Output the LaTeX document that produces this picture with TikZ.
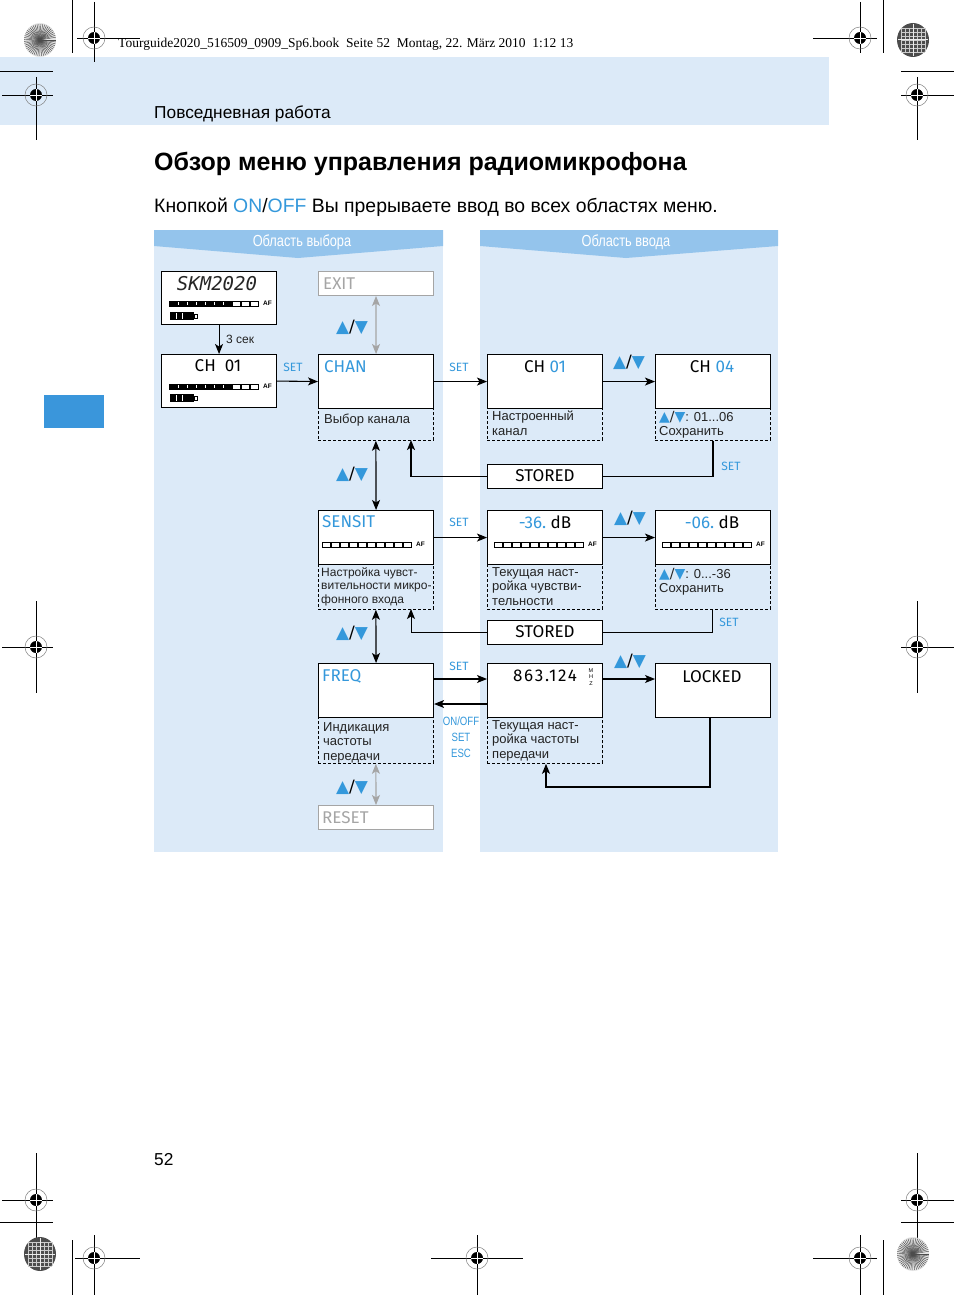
\documentclass[tikz,border=0pt]{standalone}
\usepackage{fontspec}
\setmainfont{Liberation Sans}
\newfontfamily\timesf{Liberation Serif}
\newfontfamily\condf[FakeStretch=0.8]{Liberation Sans}
\newfontfamily\dispf{Fira Sans}
\newfontfamily\dispwide[LetterSpace=10]{Fira Sans}
\newfontfamily\symf{DejaVu Sans}
\newfontfamily\lcdf{DejaVu Sans Mono}
\usetikzlibrary{arrows.meta,calc}
\definecolor{bandblue}{RGB}{220,234,248}
\definecolor{tabblue}{RGB}{148,196,236}
\definecolor{txtblue}{RGB}{52,152,219}
\definecolor{tabdark}{RGB}{58,150,219}
\definecolor{greyline}{RGB}{165,165,165}
\definecolor{bodytxt}{RGB}{35,35,35}
\newcommand\ud{{\color{txtblue}▲}/{\color{txtblue}▼}}
\newcommand\regc[2]{%
  \draw[gray,line width=0.5pt] (#1,#2) circle (11);
  \fill (#1,#2) circle (6);
  \draw[white,line width=0.7pt] ({#1-6},#2)--({#1+6},#2) (#1,{#2-6})--(#1,{#2+6});
}
\newcommand\sunb[2]{%
  \fill[gray!20] (#1,#2) ellipse (16 and 17);
  \foreach \a in {0,7,...,353} \draw[gray!60!black,line width=0.45pt] (#1,#2) -- ++(\a:16);
}
\newcommand\darkc[2]{%
  \fill[gray!60!black] (#1,#2) ellipse (16 and 17);
  \foreach \d in {-12,-8,...,12} {\draw[gray!40,line width=0.3pt] ({#1+\d},{#2-12})--({#1+\d},{#2+12}); \draw[gray!40,line width=0.3pt] ({#1-12},{#2+\d})--({#1+12},{#2+\d});}
  \draw[gray!15,line width=1pt] ({#1-15},#2)--({#1+15},#2) (#1,{#2-16})--(#1,{#2+16});
}
\newcommand\afbar[3]{%
  \foreach \k in {0,...,9} \draw[line width=0.5pt,fill=white] ({#1+9*\k},#2) rectangle ++(8.6,5);
  \ifnum#3>0
    \fill ({#1},#2) rectangle ++({9*#3},5);
    \foreach \k in {1,...,6} \draw[white,line width=0.6pt] ({#1+9*\k},{#2+1})--++(0,3);
  \fi
  \node[font=\bfseries\fontsize{6.5}{6.5}\selectfont, anchor=west, inner sep=0pt] at ({#1+94},{#2+2.5}) {AF};
}
\newcommand\batt[2]{%
  \fill (#1,#2) rectangle ++(24,8);
  \draw[line width=0.6pt] ({#1+24},{#2+2}) rectangle ++(3,4);
  \draw[white,line width=0.8pt] ({#1+6},{#2+1})--++(0,6) ({#1+12},{#2+1})--++(0,6);
}
\begin{document}
\begin{tikzpicture}[x=1pt,y=-1pt,
  box/.style={draw=black, line width=1.1pt, fill=white, minimum width=115pt, minimum height=54pt, anchor=north west, inner sep=0pt},
  sbox/.style={box, minimum height=24pt},
  gbox/.style={draw=greyline, line width=1pt, fill=white, minimum width=115pt, minimum height=24pt, anchor=north west, inner sep=0pt},
  dbox/.style={draw=black, dash pattern=on 3pt off 2pt, line width=0.8pt, minimum width=115pt, anchor=north west, inner sep=0pt},
  disp/.style={font=\dispf\fontsize{17}{17}\selectfont, inner sep=0pt},
  lab/.style={font=\dispf\fontsize{12}{12}\selectfont, text=txtblue, inner sep=0pt},
  udl/.style={font=\symf\fontsize{17}{17}\selectfont, inner sep=0pt},
  body/.style={font=\fontsize{13}{14.5}\selectfont, text=bodytxt, align=left, anchor=north west, inner sep=0pt},
  arr/.style={-{Stealth[length=10pt,width=8pt,inset=2.5pt]}, line width=1.1pt},
  darr/.style={{Stealth[length=10pt,width=8pt,inset=2.5pt]}-{Stealth[length=10pt,width=8pt,inset=2.5pt]}, line width=1.1pt},
  garr/.style={darr, draw=greyline}
]
\useasboundingbox (0,0) rectangle (954,1295);
\fill[white] (0,0) rectangle (954,1295);

% header band
\fill[bandblue] (0,57) rectangle (829,125);
\node[anchor=base west, inner sep=0pt, font=\timesf\fontsize{13.5}{13.5}\selectfont] (hdr) at (118,48) {Tourguide2020\_516509\_0909\_Sp6.book\ \ Seite 52\ \ Montag, 22. März 2010\ \ 1:12 13};
\node[anchor=base west, inner sep=0pt, font=\fontsize{17.3}{17.3}\selectfont] (sect) at (154,118) {Повседневная работа};
\node[anchor=base west, inner sep=0pt, font=\bfseries\fontsize{25}{25}\selectfont] (title) at (154,170) {Обзор меню управления радиомикрофона};
\node[anchor=base west, inner sep=0pt, font=\fontsize{19.4}{19.4}\selectfont] (sub) at (154,212) {Кнопкой {\color{txtblue}ON}/{\color{txtblue}OFF} Вы прерываете ввод во всех областях меню.};
\node[anchor=base west, inner sep=0pt, font=\fontsize{17.3}{17.3}\selectfont] (pg) at (154,1165) {52};
\fill[tabdark] (44,395) rectangle (104,428);

% panels
\fill[bandblue] (154,230) rectangle (443,852);
\fill[bandblue] (480,230) rectangle (778,852);
\fill[tabblue] (154,230) -- (443,230) -- (443,246) -- (298,258) -- (154,246) -- cycle;
\fill[tabblue] (480,230) -- (778,230) -- (778,246) -- (626,258) -- (480,246) -- cycle;
\node[text=white, inner sep=0pt, font=\condf\fontsize{16}{16}\selectfont] (tabL) at (302,242) {Область выбора};
\node[text=white, inner sep=0pt, font=\condf\fontsize{16}{16}\selectfont] (tabR) at (626,242) {Область ввода};

% dashed boxes
\node[dbox, minimum height=32pt] (chand) at (318,408) {};
\node[dbox, minimum height=45pt] (sensd) at (318,564) {};
\node[dbox, minimum height=46pt] (freqd) at (318,717) {};
\node[dbox, minimum height=32pt] (ch01bd) at (487,408) {};
\node[dbox, minimum height=45pt] (db36d) at (487,564) {};
\node[dbox, minimum height=46pt] (f863d) at (487,717) {};
\node[dbox, minimum height=32pt] (ch04d) at (655,408) {};
\node[dbox, minimum height=45pt] (db06d) at (655,564) {};

% solid boxes
\node[box, minimum height=53pt] (skm) at (161,271) {};
\node[box, minimum height=53pt] (ch01a) at (161,354) {};
\node[gbox] (exit) at (318,271) {};
\node[box] (chan) at (318,354) {};
\node[box] (sensit) at (318,510) {};
\node[box] (freq) at (318,663) {};
\node[gbox] (reset) at (318,805) {};
\node[box] (ch01b) at (487,354) {};
\node[sbox] (stored1) at (487,464) {};
\node[box] (db36) at (487,510) {};
\node[sbox] (stored2) at (487,620) {};
\node[box] (f863) at (487,663) {};
\node[box] (ch04) at (655,354) {};
\node[box] (db06) at (655,510) {};
\node[box] (locked) at (655,663) {};

% box texts
\node[inner sep=0pt, text=black!85, font=\lcdf\itshape\fontsize{19}{19}\selectfont] (tskm) at (217,284) {SKM2020};
\afbar{169}{301}{7}
\batt{170}{312}
\node[disp] (tch01a) at (218,366) {CH\ \ 01};
\afbar{169}{384}{7}
\batt{170}{394}
\node[disp, anchor=west, text=greyline] (texit) at (323,284) {EXIT};
\node[disp, anchor=west, text=txtblue] (tchan) at (324,367) {CHAN};
\node[disp, anchor=west, text=txtblue] (tsens) at (322,522) {SENSIT};
\afbar{322}{542}{0}
\node[disp, anchor=west, text=txtblue] (tfreq) at (322,676) {FREQ};
\node[disp, anchor=west, text=greyline] (treset) at (322,818) {RESET};
\node[disp] (tch01b) at (545,367) {CH {\color{txtblue}01}};
\node[disp] (tch04) at (712,367) {CH {\color{txtblue}04}};
\node[disp] (ts1) at (545,476) {STORED};
\node[disp] (ts2) at (545,632) {STORED};
\node[disp] (tdb36) at (545,522) {{\color{txtblue}-36.}\ dB};
\afbar{494}{542}{0}
\node[disp] (tdb06) at (712,522) {{\color{txtblue}-06.}\ dB};
\afbar{662}{542}{0}
\node[disp, font=\dispwide\fontsize{17}{17}\selectfont] (t863) at (545,676) {863.124};
\node[inner sep=0pt, align=center, font=\fontsize{5.5}{6.5}\selectfont] (tmhz) at (591,677) {M\\H\\Z};
\node[disp] (tlock) at (712,677) {LOCKED};

% body texts
\node[body] (b1) at (324,414) {Выбор канала};
\node[body] (b2) at (492,411) {Настроенный\\канал};
\node[body] (b3) at (659,411) {{\symf\fontsize{14}{14}\selectfont\ud}: 01...06\\Сохранить};
\node[body, font=\fontsize{12}{13.5}\selectfont] (b4) at (321,567) {Настройка чувст-\\вительности микро-\\фонного входа};
\node[body] (b5) at (492,567) {Текущая наст-\\ройка чувстви-\\тельности};
\node[body] (b6) at (659,568) {{\symf\fontsize{14}{14}\selectfont\ud}: 0...-36\\Сохранить};
\node[body] (b7) at (323,722) {Индикация\\частоты\\передачи};
\node[body] (b8) at (492,720) {Текущая наст-\\ройка частоты\\передачи};

% connectors
\draw[arr] (skm.south) -- (ch01a.north);
\node[anchor=west, inner sep=0pt, font=\fontsize{12}{12}\selectfont, text=bodytxt] (t3s) at (226,339) {3 сек};
\draw[arr] (ch01a.east) -- (chan.west);
\node[lab] (l1) at (293,367) {SET};
\draw[garr] (exit.south) -- (chan.north);
\node[udl] (u1) at (352,327) {\ud};
\draw[darr] (chand.south) -- (sensit.north);
\node[udl] (u2) at (352,474) {\ud};
\draw[darr] (sensd.south) -- (freq.north);
\node[udl] (u3) at (352,633) {\ud};
\draw[garr] (freqd.south) -- (reset.north);
\node[udl] (u4) at (352,787) {\ud};

\draw[arr] (chan.east) -- (ch01b.west);
\node[lab] (l2) at (459,367) {SET};
\draw[arr] (ch01b.east) -- (ch04.west);
\node[udl] (u5) at (629,362) {\ud};
\coordinate (r1) at (411,440);
\draw[line width=1.6pt] (ch04d.south) |- (stored1.east);
\node[lab] (l3) at (731,466) {SET};
\draw[arr, line width=1.6pt] (stored1.west) -| (r1);

\draw[arr] (sensit.east) -- (db36.west);
\node[lab] (l4) at (459,522) {SET};
\draw[arr] (db36.east) -- (db06.west);
\node[udl] (u6) at (630,518) {\ud};
\coordinate (r2) at (411,609);
\draw[line width=1pt] (db06d.south) |- (stored2.east);
\node[lab] (l5) at (729,622) {SET};
\draw[arr, line width=1pt] (stored2.west) -| (r2);

\draw[arr] ($(freq.north east)+(0,16)$) -- ($(f863.north west)+(0,16)$);
\node[lab] (l6) at (459,666) {SET};
\draw[arr] ($(f863.north west)+(0,41)$) -- ($(freq.north east)+(0,41)$);
\node[lab, font=\condf\fontsize{12}{12}\selectfont] (l7) at (461,721) {ON/OFF};
\node[lab, font=\condf\fontsize{12}{12}\selectfont] (l8) at (461,737) {SET};
\node[lab, font=\condf\fontsize{12}{12}\selectfont] (l9) at (461,753) {ESC};
\draw[arr] ($(f863.north east)+(0,16)$) -- ($(locked.north west)+(0,16)$);
\node[udl] (u7) at (630,661) {\ud};
\coordinate (c3) at (710,787);
\draw[arr, line width=1.4pt] (c3 |- locked.south) -- (c3) -| (f863d.south -| 546,0);

% registration marks
\draw[line width=0.7pt] (72,0)--(72,53) (94,2)--(94,62) (77,38)--(140,38) (0,71)--(53,71) (2,95)--(53,95) (36,77)--(36,140);
\regc{94}{38} \regc{36}{95} \sunb{40}{40}
\draw[line width=0.7pt] (883,0)--(883,53) (860,2)--(860,53) (813,38)--(877,38) (901,71)--(954,71) (901,95)--(954,95) (917,77)--(917,140);
\regc{860}{38} \regc{917}{95} \darkc{913}{40}
\draw[line width=0.7pt] (2,647)--(53,647) (36,601)--(36,693) (901,647)--(954,647) (917,601)--(917,693);
\regc{36}{647} \regc{917}{647}
\draw[line width=0.7pt] (2,1200)--(53,1200) (36,1153)--(36,1245) (0,1222)--(53,1222) (72,1240)--(72,1295) (94,1235)--(94,1295) (75,1258)--(140,1258);
\regc{36}{1200} \regc{94}{1258} \darkc{40}{1254}
\draw[line width=0.7pt] (477,1235)--(477,1295) (431,1258)--(523,1258);
\regc{477}{1258}
\draw[line width=0.7pt] (901,1200)--(954,1200) (917,1153)--(917,1245) (901,1222)--(954,1222) (883,1240)--(883,1295) (860,1235)--(860,1295) (813,1258)--(877,1258);
\regc{917}{1200} \regc{860}{1258} \sunb{913}{1254}
\end{tikzpicture}
\end{document}
